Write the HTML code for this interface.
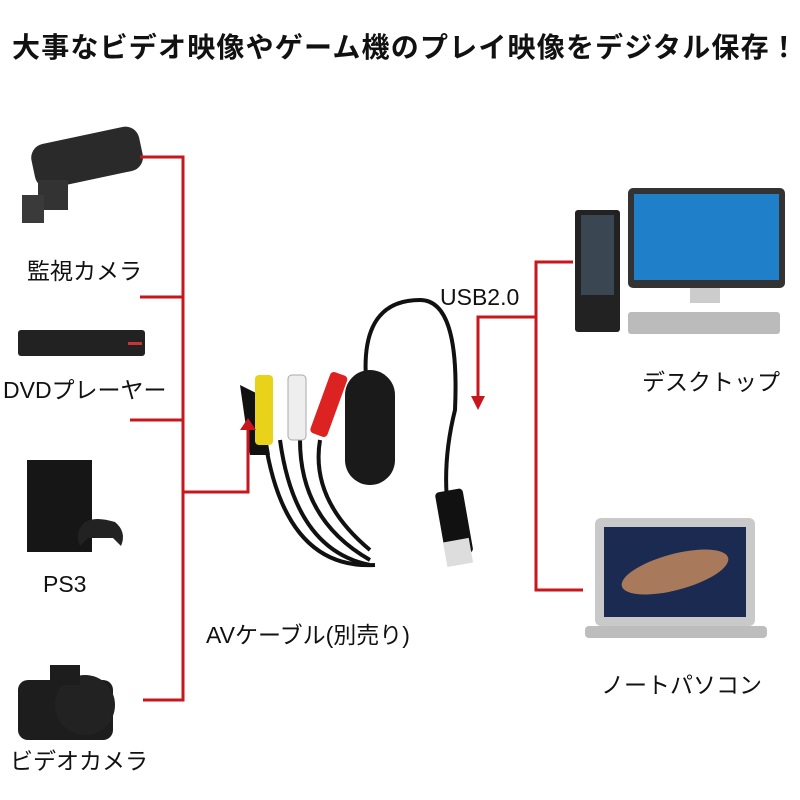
<!DOCTYPE html>
<html><head><meta charset="utf-8"><style>
body{margin:0;width:800px;height:800px;background:#fff;position:relative;overflow:hidden;font-family:"Liberation Sans","Noto Sans CJK JP",sans-serif;}
.t{position:absolute;white-space:nowrap;color:#111;font-size:23px;}
svg{position:absolute;left:0;top:0}
</style></head><body>
<svg width="800" height="800" viewBox="0 0 800 800">
<!-- security camera -->
<rect x="32" y="135" width="110" height="45" rx="14" fill="#2a2a2a" transform="rotate(-12 87 157)"/>
<rect x="38" y="180" width="30" height="30" fill="#333"/>
<rect x="22" y="195" width="22" height="28" fill="#3a3a3a"/>
<!-- dvd -->
<rect x="18" y="330" width="127" height="26" rx="3" fill="#222"/>
<rect x="128" y="342" width="14" height="3" fill="#c33"/>
<!-- ps4 -->
<rect x="27" y="460" width="65" height="92" fill="#161616"/>
<path d="M85 522 q10-6 30 0 q12 10 6 24 l-8-8 h-25 l-8 8 q-6-14 5-24z" fill="#222"/>
<!-- camera -->
<rect x="18" y="680" width="95" height="60" rx="10" fill="#1d1d1d"/>
<circle cx="85" cy="705" r="30" fill="#222"/>
<rect x="50" y="665" width="30" height="20" fill="#1d1d1d"/>
<!-- desktop -->
<rect x="575" y="210" width="45" height="122" rx="3" fill="#222"/>
<rect x="581" y="215" width="33" height="80" fill="#3a4652"/>
<rect x="628" y="188" width="157" height="100" rx="5" fill="#333"/>
<rect x="634" y="194" width="145" height="86" fill="#1f7fc9"/>
<rect x="690" y="288" width="30" height="15" fill="#ccc"/>
<rect x="628" y="312" width="152" height="22" rx="3" fill="#bbb"/>
<!-- laptop -->
<rect x="595" y="518" width="160" height="108" rx="6" fill="#c9c9c9"/>
<rect x="604" y="527" width="142" height="90" fill="#1a2a50"/>
<ellipse cx="675" cy="572" rx="55" ry="18" fill="#a8795a" transform="rotate(-15 675 572)"/>
<rect x="585" y="626" width="182" height="12" rx="4" fill="#bdbdbd"/>
<!-- cables -->
<path d="M265 440 q20 130 110 125" stroke="#111" stroke-width="4" fill="none"/>
<path d="M280 440 q15 110 90 125" stroke="#111" stroke-width="4" fill="none"/>
<path d="M300 440 q0 80 70 120" stroke="#111" stroke-width="4" fill="none"/>
<path d="M320 440 q-10 60 50 110" stroke="#111" stroke-width="4" fill="none"/>
<path d="M370 410 q-20-110 50-110 q40 0 35 110 q-20 80 5 150" stroke="#111" stroke-width="4" fill="none"/>
<path d="M240 385 l20 10 l10 60 l-20 0z" fill="#111"/>
<rect x="255" y="375" width="18" height="70" rx="4" fill="#e8d21a"/>
<rect x="288" y="375" width="18" height="65" rx="4" fill="#eee" stroke="#aaa"/>
<rect x="320" y="372" width="18" height="65" rx="4" fill="#d22" transform="rotate(20 329 404)"/>
<rect x="345" y="370" width="50" height="115" rx="25" fill="#1a1a1a"/>
<rect x="440" y="490" width="28" height="65" rx="4" fill="#111" transform="rotate(-10 454 522)"/>
<rect x="445" y="540" width="26" height="25" fill="#ddd" transform="rotate(-10 458 552)"/>
<!-- red lines -->
<g stroke="#c8161d" stroke-width="3" fill="none">
<path d="M140 157 H183 V700 H143"/>
<path d="M140 297 H183"/>
<path d="M130 420 H183"/>
<path d="M183 492 H248 V428"/>
<path d="M573 262 H536 V590 H583"/>
<path d="M536 317 H478 V398"/>
</g>
<path d="M240 430 L248 418 L256 430z" fill="#c8161d"/>
<path d="M471 396 L478 410 L485 396z" fill="#c8161d"/>
</svg>
<div class="t" style="left:12px;top:26px;font-size:28px;font-weight:bold;letter-spacing:1.2px;">大事なビデオ映像やゲーム機のプレイ映像をデジタル保存！</div>
<div class="t" style="left:27px;top:252px;">監視カメラ</div>
<div class="t" style="left:3px;top:371px;">DVDプレーヤー</div>
<div class="t" style="left:43px;top:571px;">PS3</div>
<div class="t" style="left:10px;top:742px;">ビデオカメラ</div>
<div class="t" style="left:206px;top:616px;">AVケーブル(別売り)</div>
<div class="t" style="left:440px;top:284px;">USB2.0</div>
<div class="t" style="left:642px;top:363px;">デスクトップ</div>
<div class="t" style="left:601px;top:666px;">ノートパソコン</div>
</body></html>
